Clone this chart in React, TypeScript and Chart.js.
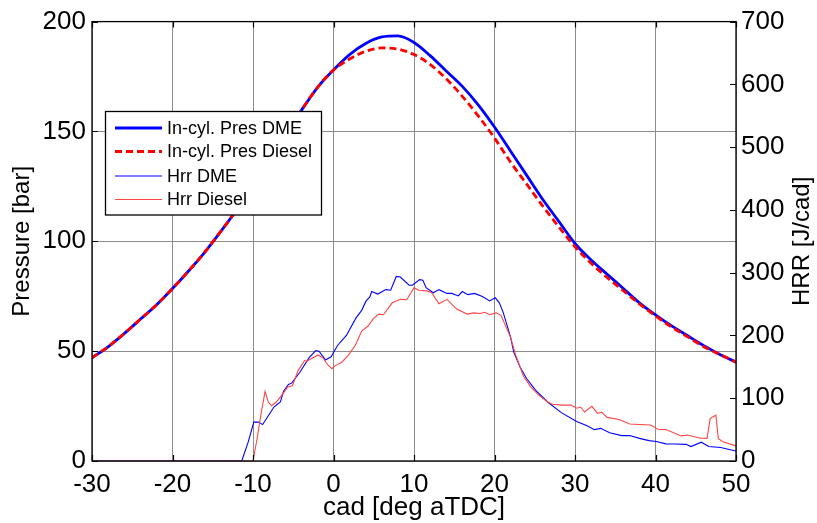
import React, { useEffect, useRef } from "react";
import { Chart, registerables } from "chart.js";

Chart.register(...registerables);

// ---------- data ----------
const cadPressure = [
  -30, -28, -26, -24, -22, -20, -18, -16, -14, -12, -10, -8, -6, -4, -2, 0, 2, 4, 6, 8, 10,
  12, 14, 16, 18, 20, 22, 24, 26, 28, 30, 32, 34, 36, 38, 40, 42, 44, 46, 48, 50,
];
const presDme = [
  47, 52, 58, 64.5, 71, 78.5, 86.5, 95, 104.5, 114.5, 125.5, 137, 148, 159.5, 170, 178, 185,
  190, 193, 193.5, 190.5, 184.5, 177.5, 170.5, 162, 152, 141, 130, 119, 109, 99, 91.5, 85,
  78.5, 72, 66.5, 61.5, 57, 52.5, 48.5, 45,
];
const presDiesel = [
  47, 52, 58, 64.5, 71, 78.5, 86.5, 95, 104.5, 114.5, 125.5, 137, 148, 159.5, 170, 178, 183,
  186.5, 188, 187.5, 185, 180.5, 174, 166, 157, 147, 136, 126, 116, 106.5, 97.5, 90, 83.5,
  77.5, 71.5, 66, 61, 56.5, 52, 48.5, 45,
];

const cadHrrDme = [
  -30, -11.4, -10.6, -9.9, -9.3, -8.8, -8.2, -7.4, -6.6, -6.2, -5.6, -5.2, -4.2, -3.0, -2.2,
  -1.8, -1.0, -0.3, 0.5, 1.6, 2.8, 3.5, 4.05, 4.5, 4.75, 5.5, 6.5, 7.1, 7.8, 8.3, 9.4, 9.8,
  10.7, 11.1, 11.5, 12.4, 13.1, 14.1, 14.7, 15.5, 16.0, 16.7, 17.5, 18.5, 19.4, 20.1, 20.6,
  21.1, 22.0, 22.4, 23.2, 24.0, 24.5, 25.1, 26.6, 28.3, 30.2, 31.5, 32.4, 33.2, 34.3, 35.8,
  36.8, 38.0, 39.2, 40.1, 41.3, 42.4, 43.8, 44.4, 45.7, 46.6, 48.1, 49.3, 50,
];
const hrrDme = [
  0, 0, 30, 62, 62, 58, 70, 86, 94, 111, 122, 124, 141, 165, 176, 175, 161, 166, 184, 200,
  228, 240, 255, 261, 270, 266, 273, 272, 294, 293, 280, 280, 289, 288, 276, 268, 273, 267,
  267, 263, 270, 265, 267, 262, 255, 260, 252, 236, 197, 173, 149, 131, 123, 113, 94, 77, 63,
  56, 50, 52, 45, 40.5, 40.5, 36, 32.5, 31, 27.3, 27, 26.5, 23, 30, 23, 21.5, 18, 16,
];

const cadHrrDiesel = [
  -30, -10.0, -9.5, -9.0, -8.5, -8.1, -7.7, -7.1, -6.3, -5.7, -5.1, -4.4, -3.6, -3.3, -2.5,
  -1.9, -1.3, -0.7, -0.2, 0.2, 1.0, 1.8, 2.7, 3.5, 4.3, 4.9, 5.6, 6.2, 7.3, 8.3, 9.1, 10.0,
  10.6, 11.6, 12.2, 13.1, 14.1, 15.3, 16.6, 17.4, 18.2, 18.8, 19.4, 20.2, 20.8, 22.0, 22.6,
  23.6, 24.5, 25.5, 26.6, 27.2, 28.3, 29.5, 30.2, 30.7, 31.2, 32.1, 32.8, 33.3, 34.0, 35.5,
  36.8, 37.4, 39.4, 40.3, 41.3, 43.2, 44.0, 45.6, 46.4, 46.8, 47.5, 47.8, 48.3, 50,
];
const hrrDiesel = [
  0, 0, 35, 75, 111, 94, 88, 94, 107, 118, 120, 144, 160, 159, 165, 169, 164, 153, 147, 152,
  157, 168, 184, 207, 215, 226, 234, 233, 252, 257.5, 257, 276, 272, 271, 268, 250.5, 257.5,
  242, 234, 236, 235, 237, 233, 236, 232, 197, 170, 135, 118, 105, 94, 90.5, 89, 89, 84, 86,
  78, 87, 76, 78, 69.5, 66, 59, 58.5, 57.3, 50.5, 50, 40, 41.5, 36.3, 36, 68, 73, 36, 31, 24,
];

const xTicks = [-30, -20, -10, 0, 10, 20, 30, 40, 50];
const pressureTicks = [0, 50, 100, 150, 200];
const hrrTicks = [0, 100, 200, 300, 400, 500, 600, 700];

const legendLabels = ["In-cyl. Pres DME", "In-cyl. Pres Diesel", "Hrr DME", "Hrr Diesel"];
const xTitle = "cad [deg aTDC]";
const yTitle = "Pressure [bar]";
const y1Title = "HRR [J/cad]";

// ---------- styling ----------
const FONT = "'Liberation Sans', Arial, sans-serif";
const TICK_SIZE = 26;
const TITLE_SIZE = 24;
const XTITLE_SIZE = 26;
const LEGEND_SIZE = 18;
const GRID = "#8c8c8c";
const BLUE = "#0000ff";
const RED = "#ff0000";
const RED_THIN = "#ff4545";

const toXY = (xs: number[], ys: number[]) => xs.map((x, i) => ({ x, y: ys[i] }));

const framePlugin = {
  id: "framePlugin",
  afterDraw(chart: any) {
    const { ctx, chartArea } = chart;
    const { left, right, top, bottom } = chartArea;
    const xs = chart.scales.x;
    const ys = chart.scales.y;
    const y1s = chart.scales.y1;
    ctx.save();
    // border
    ctx.strokeStyle = "#000";
    ctx.lineWidth = 1.3;
    ctx.strokeRect(left, top, right - left, bottom - top);
    // inward ticks
    ctx.lineWidth = 1.2;
    ctx.beginPath();
    const tl = 6;
    xTicks.forEach((t) => {
      const px = Math.round(xs.getPixelForValue(t)) + 0.5;
      ctx.moveTo(px, bottom);
      ctx.lineTo(px, bottom - tl);
      ctx.moveTo(px, top);
      ctx.lineTo(px, top + tl);
    });
    pressureTicks.forEach((t) => {
      const py = Math.round(ys.getPixelForValue(t)) + 0.5;
      ctx.moveTo(left, py);
      ctx.lineTo(left + tl, py);
    });
    hrrTicks.forEach((t) => {
      const py = Math.round(y1s.getPixelForValue(t)) + 0.5;
      ctx.moveTo(right, py);
      ctx.lineTo(right - tl, py);
    });
    ctx.stroke();

    // titles
    ctx.fillStyle = "#000";
    ctx.textAlign = "center";
    ctx.textBaseline = "middle";
    ctx.font = `${XTITLE_SIZE}px ${FONT}`;
    ctx.fillText(xTitle, (left + right) / 2, 508);
    ctx.font = `${TITLE_SIZE}px ${FONT}`;
    ctx.save();
    ctx.translate(22, (top + bottom) / 2);
    ctx.rotate(-Math.PI / 2);
    ctx.fillText(yTitle, 0, 0);
    ctx.restore();
    ctx.save();
    ctx.translate(802, (top + bottom) / 2);
    ctx.rotate(-Math.PI / 2);
    ctx.fillText(y1Title, 0, 0);
    ctx.restore();

    // legend
    const bx = 105.5, by = 111.5, bw = 216, bh = 103.5;
    ctx.fillStyle = "#fff";
    ctx.fillRect(bx, by, bw, bh);
    ctx.strokeStyle = "#000";
    ctx.lineWidth = 1.3;
    ctx.strokeRect(bx, by, bw, bh);
    const rows = [128, 151.5, 176, 199.5];
    const styles = [
      { c: BLUE, w: 2.8, d: [] as number[] },
      { c: RED, w: 2.8, d: [7, 4] },
      { c: BLUE, w: 1, d: [] as number[] },
      { c: RED_THIN, w: 1, d: [] as number[] },
    ];
    ctx.font = `${LEGEND_SIZE}px ${FONT}`;
    ctx.textAlign = "left";
    ctx.textBaseline = "middle";
    legendLabels.forEach((lab, i) => {
      const s = styles[i];
      ctx.beginPath();
      ctx.setLineDash(s.d);
      ctx.strokeStyle = s.c;
      ctx.lineWidth = s.w;
      ctx.moveTo(115, rows[i]);
      ctx.lineTo(162, rows[i]);
      ctx.stroke();
      ctx.setLineDash([]);
      ctx.fillStyle = "#000";
      ctx.fillText(lab, 167, rows[i] + 1);
    });
    ctx.restore();
  },
};

export default function App() {
  const ref = useRef<HTMLCanvasElement | null>(null);

  useEffect(() => {
    if (!ref.current) return;
    const tickFont = { family: FONT, size: TICK_SIZE };
    const chart = new Chart(ref.current, {
      type: "line",
      data: {
        datasets: [
          {
            label: legendLabels[0],
            data: toXY(cadPressure, presDme),
            yAxisID: "y",
            borderColor: BLUE,
            borderWidth: 2.8,
            pointRadius: 0,
            tension: 0.4,
            cubicInterpolationMode: "monotone",
            order: 4,
          },
          {
            label: legendLabels[1],
            data: toXY(cadPressure, presDiesel),
            yAxisID: "y",
            borderColor: RED,
            borderWidth: 2.8,
            borderDash: [7, 4],
            pointRadius: 0,
            tension: 0.4,
            cubicInterpolationMode: "monotone",
            order: 3,
          },
          {
            label: legendLabels[2],
            data: toXY(cadHrrDme, hrrDme),
            yAxisID: "y1",
            borderColor: BLUE,
            borderWidth: 1.1,
            pointRadius: 0,
            tension: 0,
            order: 2,
          },
          {
            label: legendLabels[3],
            data: toXY(cadHrrDiesel, hrrDiesel),
            yAxisID: "y1",
            borderColor: RED_THIN,
            borderWidth: 1.1,
            pointRadius: 0,
            tension: 0,
            order: 1,
          },
        ],
      },
      options: {
        animation: false,
        responsive: true,
        maintainAspectRatio: false,
        layout: { padding: { top: 17, left: 0, right: 0, bottom: 0 } },
        plugins: { legend: { display: false }, tooltip: { enabled: false } },
        scales: {
          x: {
            type: "linear",
            min: -30,
            max: 50,
            ticks: { stepSize: 10, color: "#000", font: tickFont, padding: 8, maxRotation: 0 },
            grid: { color: GRID, lineWidth: 1, drawTicks: false },
            border: { display: false },
            afterFit: (s: any) => {
              s.height = 62;
            },
          },
          y: {
            position: "left",
            min: 0,
            max: 200,
            ticks: { stepSize: 50, color: "#000", font: tickFont, padding: 6 },
            grid: { color: GRID, lineWidth: 1, drawTicks: false },
            border: { display: false },
            afterFit: (s: any) => {
              s.width = 92;
            },
          },
          y1: {
            position: "right",
            min: 0,
            max: 700,
            ticks: { stepSize: 100, color: "#000", font: tickFont, padding: 5 },
            grid: { display: false, drawTicks: false },
            border: { display: false },
            afterFit: (s: any) => {
              s.width = 81;
            },
          },
        },
      },
      plugins: [framePlugin],
    } as any);
    return () => chart.destroy();
  }, []);

  return (
    <div style={{ position: "fixed", left: 0, top: 0, width: 817, height: 523, background: "#fff" }}>
      <canvas ref={ref} />
    </div>
  );
}
